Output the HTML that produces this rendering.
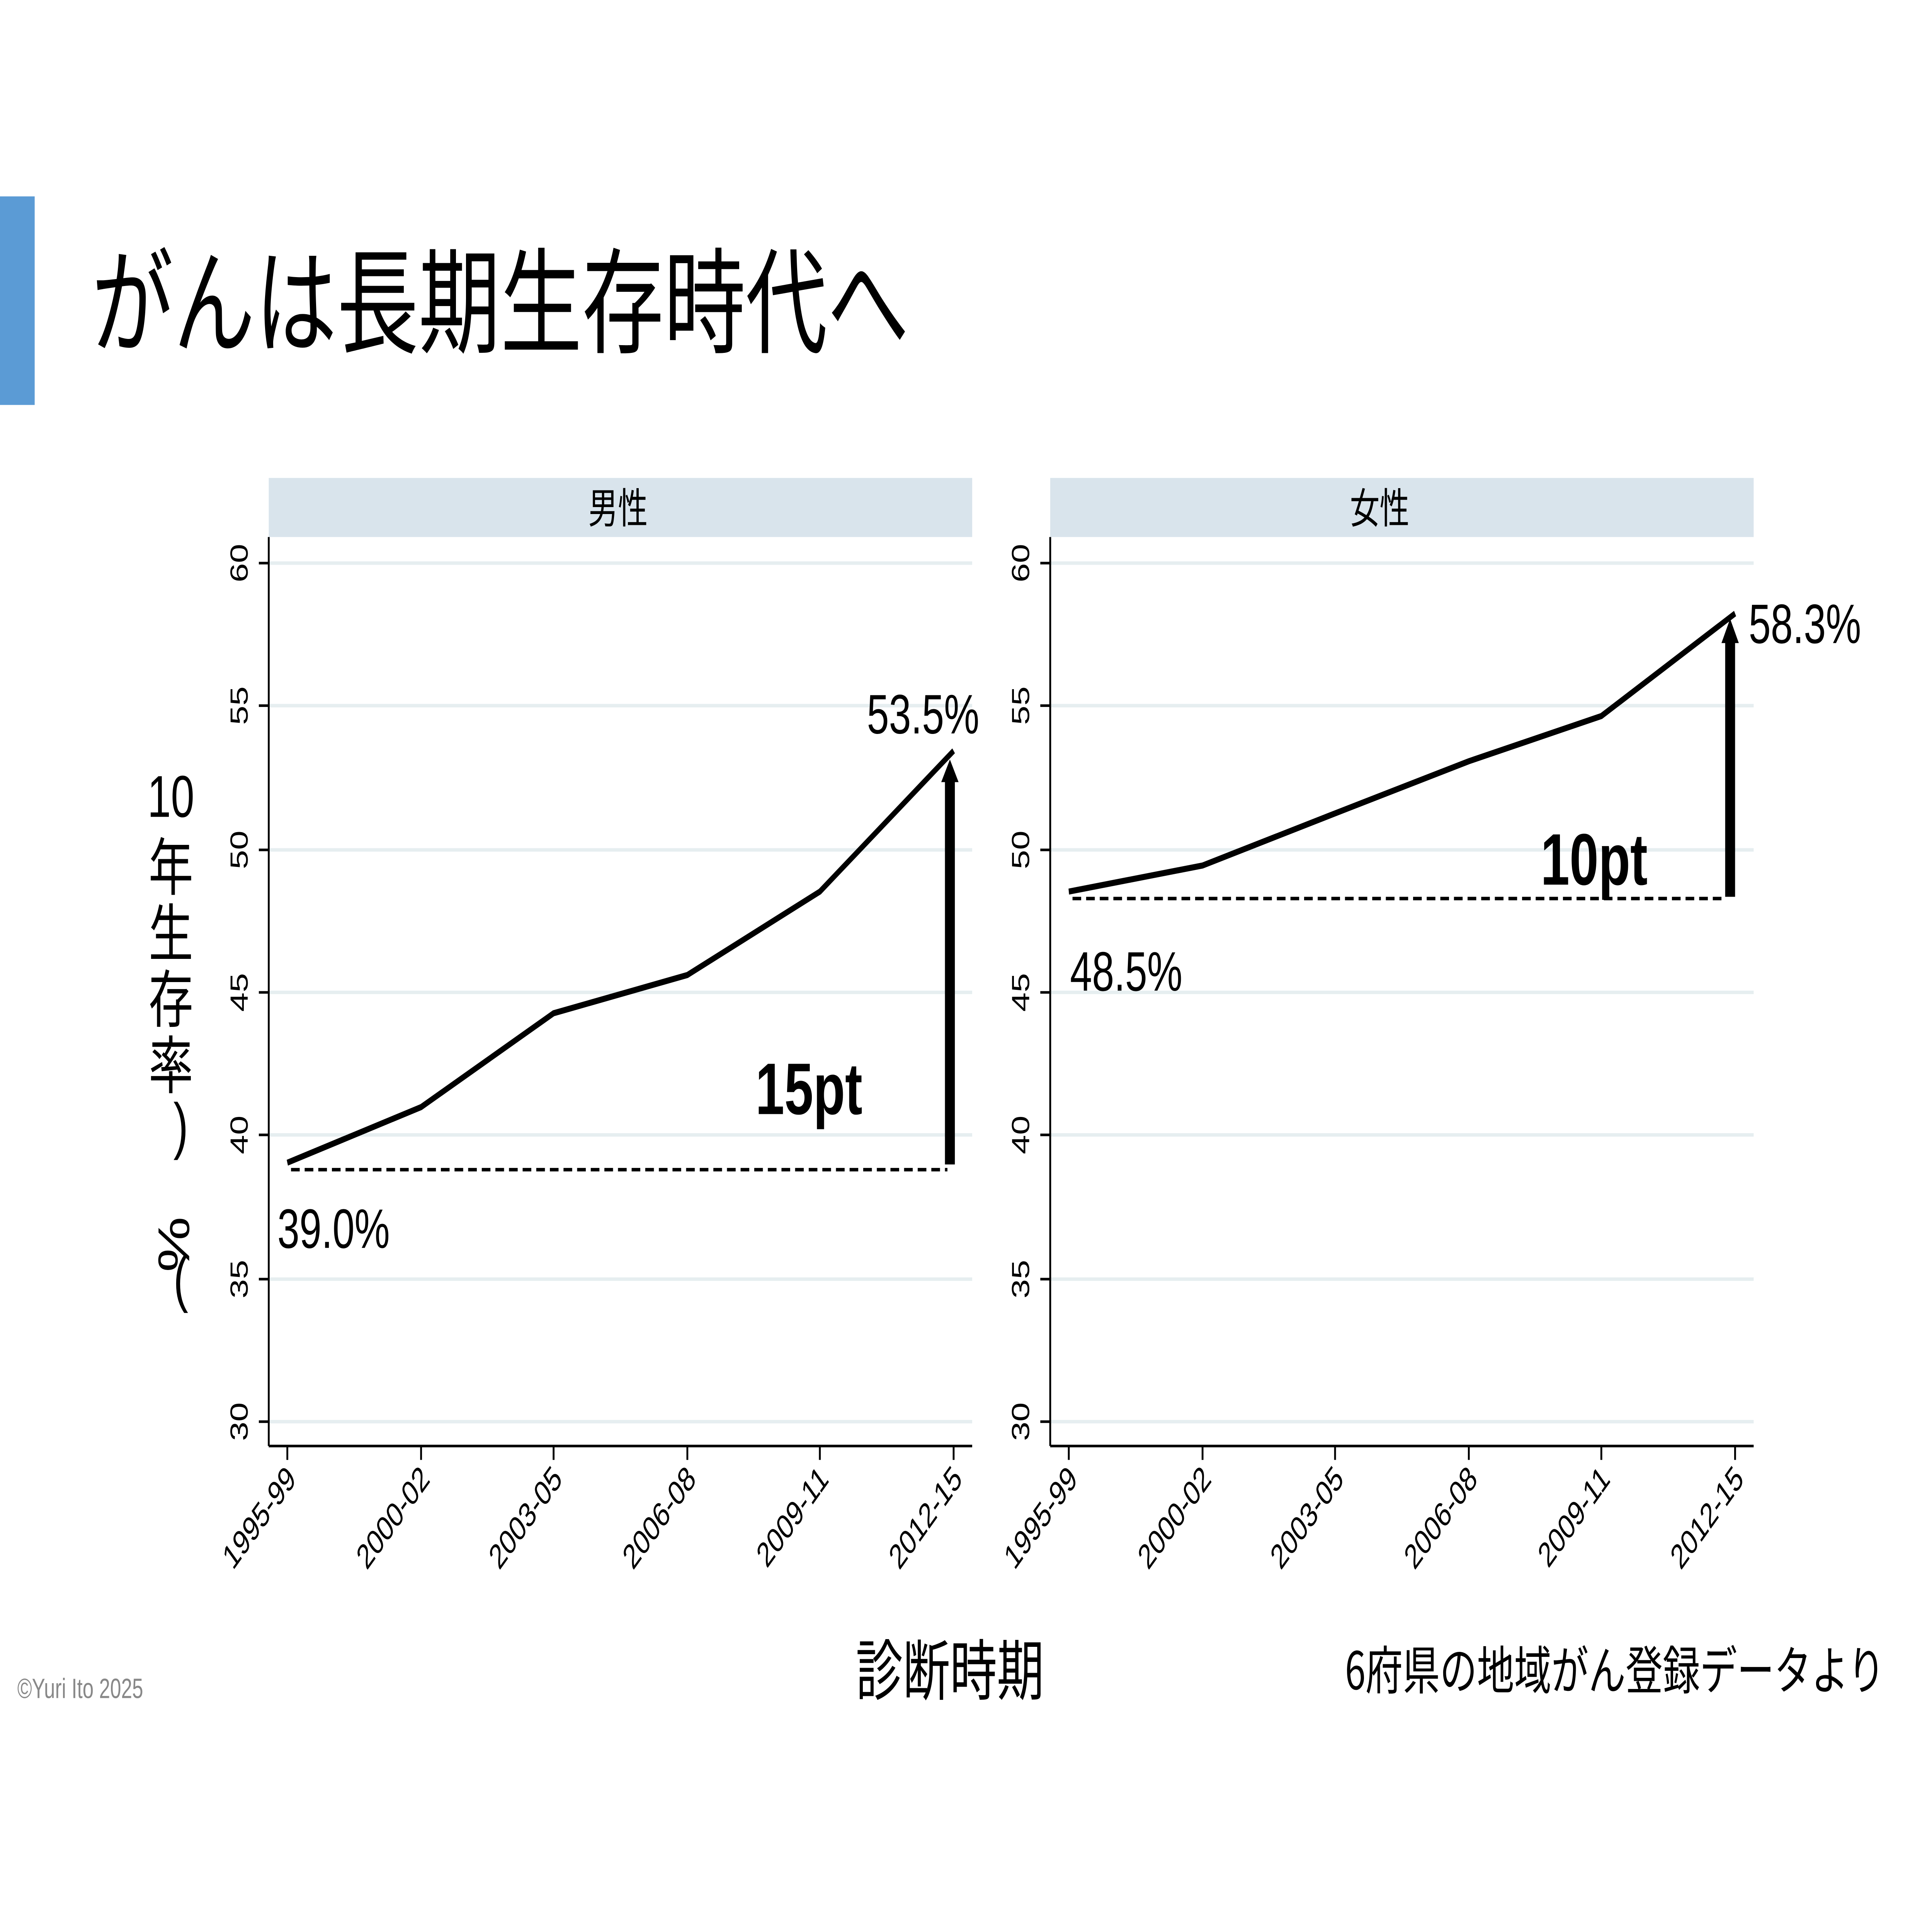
<!DOCTYPE html>
<html><head><meta charset="utf-8"><style>
html,body{margin:0;padding:0;background:#fff;overflow:hidden;width:100%;height:100%}
svg{display:block;position:fixed;left:0;top:0;width:100vw;height:100vh}
</style></head><body>
<svg viewBox="0 0 1560 1103" preserveAspectRatio="none" font-family="Liberation Sans, Noto Sans CJK JP, sans-serif">
<rect x="0" y="113" width="28" height="120" fill="#5b9bd5"/>
<text x="74" y="198" font-size="66" font-family="Noto Sans CJK JP, sans-serif">がんは長期生存時代へ</text>
<g font-size="36" font-family="Noto Sans CJK JP, sans-serif" text-anchor="middle">
<text x="138" y="470" font-family="Liberation Sans, sans-serif" font-size="34">10</text>
<text x="138" y="512">年</text><text x="138" y="550">生</text><text x="138" y="588">存</text><text x="138" y="626">率</text>
<text x="146" y="660" font-family="Liberation Sans, sans-serif">)</text>
<text transform="translate(128,716) rotate(90)" text-anchor="middle" font-family="Liberation Sans, sans-serif">%</text>
<text x="146" y="748" font-family="Liberation Sans, sans-serif">(</text>
</g>
<g id="p1">
<rect x="217" y="275" width="568" height="34" fill="#d9e4ec"/>
<text x="499" y="301" font-size="24" text-anchor="middle" font-family="Noto Sans CJK JP, sans-serif">男性</text>
<g stroke="#e6eef0" stroke-width="2">
<line x1="217" x2="785" y1="324" y2="324"/><line x1="217" x2="785" y1="406" y2="406"/><line x1="217" x2="785" y1="489" y2="489"/><line x1="217" x2="785" y1="571" y2="571"/><line x1="217" x2="785" y1="653" y2="653"/><line x1="217" x2="785" y1="736" y2="736"/><line x1="217" x2="785" y1="818" y2="818"/></g>
<g stroke="#000" stroke-width="1.5">
<line x1="217" y1="309" x2="217" y2="832"/><line x1="217" y1="832" x2="785" y2="832"/>
<line x1="209" x2="217" y1="324" y2="324"/><line x1="209" x2="217" y1="406" y2="406"/><line x1="209" x2="217" y1="489" y2="489"/><line x1="209" x2="217" y1="571" y2="571"/><line x1="209" x2="217" y1="653" y2="653"/><line x1="209" x2="217" y1="736" y2="736"/><line x1="209" x2="217" y1="818" y2="818"/>
<line x1="232" x2="232" y1="832" y2="840"/><line x1="340" x2="340" y1="832" y2="840"/><line x1="447" x2="447" y1="832" y2="840"/><line x1="555" x2="555" y1="832" y2="840"/><line x1="662" x2="662" y1="832" y2="840"/><line x1="770" x2="770" y1="832" y2="840"/></g>
<g font-size="20">
<text transform="translate(200,324) rotate(-90)" text-anchor="middle">60</text><text transform="translate(200,406) rotate(-90)" text-anchor="middle">55</text><text transform="translate(200,489) rotate(-90)" text-anchor="middle">50</text><text transform="translate(200,571) rotate(-90)" text-anchor="middle">45</text><text transform="translate(200,653) rotate(-90)" text-anchor="middle">40</text><text transform="translate(200,736) rotate(-90)" text-anchor="middle">35</text><text transform="translate(200,818) rotate(-90)" text-anchor="middle">30</text>
<text transform="translate(240,852) rotate(-45)" text-anchor="end">1995-99</text><text transform="translate(348,852) rotate(-45)" text-anchor="end">2000-02</text><text transform="translate(455,852) rotate(-45)" text-anchor="end">2003-05</text><text transform="translate(563,852) rotate(-45)" text-anchor="end">2006-08</text><text transform="translate(670,852) rotate(-45)" text-anchor="end">2009-11</text><text transform="translate(778,852) rotate(-45)" text-anchor="end">2012-15</text></g>
<polyline points="232,669 340,637 447,583 555,561 662,513 770,432" fill="none" stroke="#000" stroke-width="3.5"/>
<line x1="235" y1="673" x2="765" y2="673" stroke="#000" stroke-width="2" stroke-dasharray="7,4"/>
<line x1="767" y1="670" x2="767" y2="448" stroke="#000" stroke-width="8"/>
<polygon points="760,450 774,450 767,437" fill="#000"/>
<text x="224" y="718" font-size="32">39.0%</text>
<text x="700" y="422" font-size="32">53.5%</text>
<text x="610" y="641" font-size="42" font-weight="bold">15pt</text>
</g>
<g id="p2">
<rect x="848" y="275" width="568" height="34" fill="#d9e4ec"/>
<text x="1114" y="301" font-size="24" text-anchor="middle" font-family="Noto Sans CJK JP, sans-serif">女性</text>
<g stroke="#e6eef0" stroke-width="2">
<line x1="848" x2="1416" y1="324" y2="324"/><line x1="848" x2="1416" y1="406" y2="406"/><line x1="848" x2="1416" y1="489" y2="489"/><line x1="848" x2="1416" y1="571" y2="571"/><line x1="848" x2="1416" y1="653" y2="653"/><line x1="848" x2="1416" y1="736" y2="736"/><line x1="848" x2="1416" y1="818" y2="818"/></g>
<g stroke="#000" stroke-width="1.5">
<line x1="848" y1="309" x2="848" y2="832"/><line x1="848" y1="832" x2="1416" y2="832"/>
<line x1="840" x2="848" y1="324" y2="324"/><line x1="840" x2="848" y1="406" y2="406"/><line x1="840" x2="848" y1="489" y2="489"/><line x1="840" x2="848" y1="571" y2="571"/><line x1="840" x2="848" y1="653" y2="653"/><line x1="840" x2="848" y1="736" y2="736"/><line x1="840" x2="848" y1="818" y2="818"/>
<line x1="863" x2="863" y1="832" y2="840"/><line x1="971" x2="971" y1="832" y2="840"/><line x1="1078" x2="1078" y1="832" y2="840"/><line x1="1186" x2="1186" y1="832" y2="840"/><line x1="1293" x2="1293" y1="832" y2="840"/><line x1="1401" x2="1401" y1="832" y2="840"/></g>
<g font-size="20">
<text transform="translate(831,324) rotate(-90)" text-anchor="middle">60</text><text transform="translate(831,406) rotate(-90)" text-anchor="middle">55</text><text transform="translate(831,489) rotate(-90)" text-anchor="middle">50</text><text transform="translate(831,571) rotate(-90)" text-anchor="middle">45</text><text transform="translate(831,653) rotate(-90)" text-anchor="middle">40</text><text transform="translate(831,736) rotate(-90)" text-anchor="middle">35</text><text transform="translate(831,818) rotate(-90)" text-anchor="middle">30</text>
<text transform="translate(871,852) rotate(-45)" text-anchor="end">1995-99</text><text transform="translate(979,852) rotate(-45)" text-anchor="end">2000-02</text><text transform="translate(1086,852) rotate(-45)" text-anchor="end">2003-05</text><text transform="translate(1194,852) rotate(-45)" text-anchor="end">2006-08</text><text transform="translate(1301,852) rotate(-45)" text-anchor="end">2009-11</text><text transform="translate(1409,852) rotate(-45)" text-anchor="end">2012-15</text></g>
<polyline points="863,513 971,498 1078,468 1186,438 1293,412 1401,353" fill="none" stroke="#000" stroke-width="3.5"/>
<line x1="866" y1="517" x2="1394" y2="517" stroke="#000" stroke-width="2" stroke-dasharray="7,4"/>
<line x1="1397" y1="516" x2="1397" y2="368" stroke="#000" stroke-width="8"/>
<polygon points="1390,370 1404,370 1397,356" fill="#000"/>
<text x="864" y="570" font-size="32">48.5%</text>
<text x="1412" y="370" font-size="32">58.3%</text>
<text x="1244" y="509" font-size="42" font-weight="bold">10pt</text>
</g>
<text x="767" y="975" font-size="38" text-anchor="middle" font-family="Noto Sans CJK JP, sans-serif">診断時期</text>
<text x="1086" y="972" font-size="30" font-family="Noto Sans CJK JP, sans-serif">6府県の地域がん登録データより</text>
<text x="14" y="977" font-size="16" fill="#888">©Yuri Ito 2025</text>
</svg>
</body></html>
